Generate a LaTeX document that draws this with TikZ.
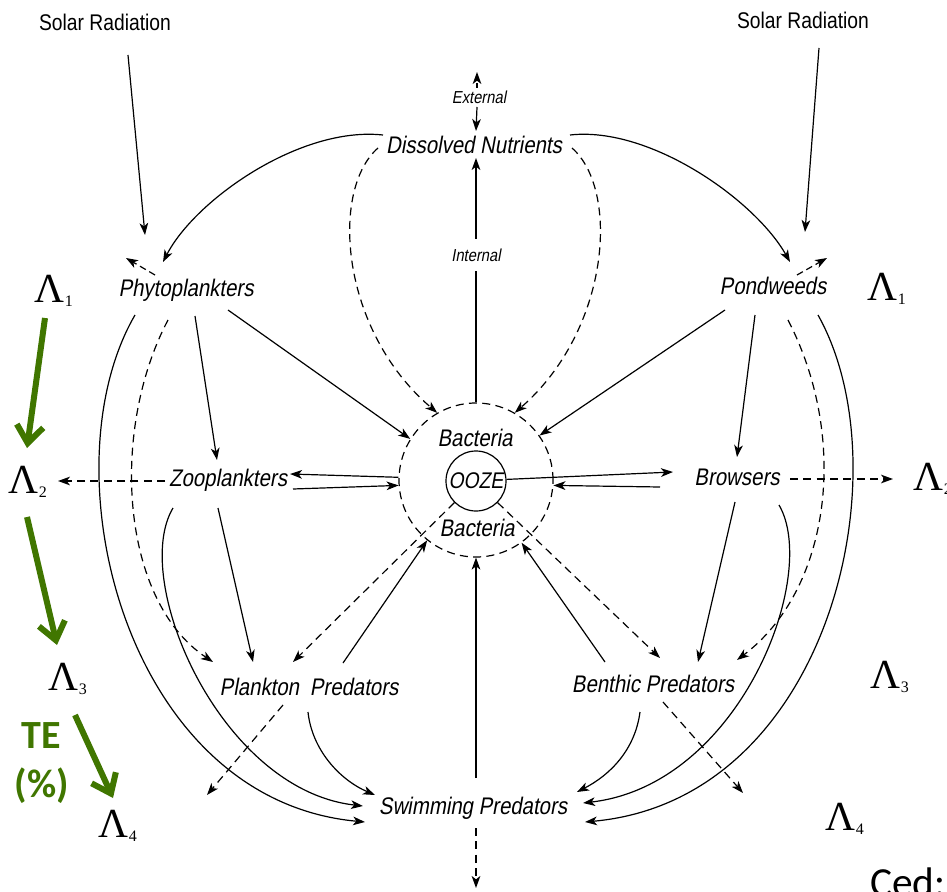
\documentclass[tikz,border=0pt]{standalone}
\usepackage{fontspec}
\usetikzlibrary{arrows.meta}
\newfontfamily\lblfont[FakeStretch=0.85,FakeSlant=0.18]{Liberation Sans}
\newfontfamily\lblupfont[FakeStretch=0.85]{Liberation Sans}
\newfontfamily\lamfont{Liberation Serif}
\newfontfamily\calfont{Carlito}
\definecolor{tegreen}{RGB}{64,118,0}
\newcommand{\lamsym}[1]{{\fontsize{31}{31}\selectfont Λ}\kern0.5pt\raisebox{-3pt}{\fontsize{12}{12}\selectfont #1}}
\begin{document}
\begin{tikzpicture}[x=0.75pt,y=-0.75pt,
  lbl/.style={font=\lblfont\fontsize{18}{20}\selectfont, inner sep=1pt},
  lblup/.style={font=\lblupfont\fontsize{17}{19}\selectfont, inner sep=1pt},
  lblsm/.style={font=\lblfont\fontsize{13}{15}\selectfont, inner sep=1pt},
  conn/.style={line width=0.9pt, -{Stealth[length=9pt,width=6.5pt,inset=2.5pt]}},
  dconn/.style={conn, dash pattern=on 6pt off 4pt},
  lam/.style={anchor=base west, inner sep=0pt, font=\lamfont},
  garrow/.style={draw=tegreen, line width=4.5pt, -{Straight Barb[length=13pt,width=20pt]}},
]
\useasboundingbox (0,0) rectangle (947,892);

% ---------- text nodes ----------
\node[lblup] (solL) at (105,22) {Solar Radiation};
\node[lblup] (solR) at (803,20) {Solar Radiation};
\node[lblsm] (ext) at (479,97) {External};
\node[lbl] (dn) at (474,145) {Dissolved Nutrients};
\node[lbl] (phyto) at (186,290) {Phytoplankters};
\node[lbl] (pond) at (773,286) {Pondweeds};
\node[circle, draw, line width=0.9pt, dash pattern=on 6pt off 4pt, minimum size=115.5pt, inner sep=0pt] (bac) at (476,480) {};
\node[circle, draw, line width=0.9pt, minimum size=45pt, inner sep=0pt, font=\lblfont\fontsize{17}{19}\selectfont] (ooze) at (476,481) {OOZE};
\node[lbl] (bacT) at (475,438) {Bacteria};
\node[lbl] (bacB) at (477,528) {Bacteria};
\node[lbl] (zoo) at (228,480) {Zooplankters};
\node[lbl] (brow) at (737,477) {Browsers};
\node[lbl] (pp) at (309,687) {Plankton\hspace{0.45em}Predators};
\node[lbl] (bp) at (653,684) {Benthic Predators};
\node[lbl] (sp) at (473,808) {Swimming Predators};

% ---------- Lambda nodes ----------
\node[lam] (L1l) at (34,302) {\lamsym{1}};
\node[lam] (L1r) at (867,300) {\lamsym{1}};
\node[lam] (L2l) at (8,493) {\lamsym{2}};
\node[lam] (L2r) at (913,490) {\lamsym{2}};
\node[lam] (L3l) at (48,690) {\lamsym{3}};
\node[lam] (L3r) at (870,688) {\lamsym{3}};
\node[lam] (L4l) at (98,837) {\lamsym{4}};
\node[lam] (L4r) at (825,830) {\lamsym{4}};

% free ends
\coordinate (extTop) at (477,72);
\coordinate (phyFree) at (126,258);
\coordinate (pondFree) at (827,258);
\coordinate (ppFree) at (207,795);
\coordinate (bpFree) at (743,793);
\coordinate (spFree) at (476,888);

% ---------- connectors ----------
% solar
\draw[conn] ([shift={(23,33)}]solL.center) -- ([shift={(-41,-55)}]phyto.center);
\draw[conn] ([shift={(16,28)}]solR.center) -- ([shift={(32,-54)}]pond.center);
% external
\draw[conn, dash pattern=on 4pt off 2.5pt] ([shift={(-2,-9)}]ext.center) -- (extTop);
\draw[conn] ([shift={(-2,10)}]ext.center) -- ([shift={(2,-14)}]dn.center);
% internal
\draw[conn] (bac.north) -- ([shift={(2,13)}]dn.center);
\node[lblsm, fill=white, inner ysep=7pt] (int) at (476,255) {Internal};
% nutrients to producers
\draw[conn] ([shift={(-91,-10)}]dn.center) .. controls (300,126) and (195,200) .. ([shift={(-23,-28)}]phyto.center);
\draw[conn] ([shift={(96,-10)}]dn.center) .. controls (650,126) and (755,200) .. ([shift={(17,-24)}]pond.center);
% nutrients dashed to bacteria
\draw[dconn] ([shift={(-96,3)}]dn.center) .. controls (330,190) and (340,330) .. (bac.120);
\draw[dconn] ([shift={(98,3)}]dn.center) .. controls (620,190) and (610,330) .. (bac.60);
% small dashed from producers
\draw[conn, dash pattern=on 5pt off 3pt] ([shift={(-31,-15)}]phyto.center) -- (phyFree);
\draw[conn, dash pattern=on 5pt off 3pt] ([shift={(24,-11)}]pond.center) -- (pondFree);
% producers to bacteria
\draw[conn] ([shift={(42,20)}]phyto.center) -- (bac.148);
\draw[conn] ([shift={(-48,24)}]pond.center) -- (bac.35);
% producers to grazers
\draw[conn] ([shift={(9,26)}]phyto.center) -- ([shift={(-11,-20)}]zoo.center);
\draw[conn] ([shift={(-18,29)}]pond.center) -- ([shift={(0,-20)}]brow.center);
% bacteria <-> grazers
\draw[conn] (bac.178) -- ([shift={(62,-6)}]zoo.center);
\draw[conn] ([shift={(65,9)}]zoo.center) -- (bac.184);
\draw[conn] (ooze.3) -- ([shift={(-64,-5)}]brow.center);
\draw[conn] ([shift={(-77,10)}]brow.center) -- (bac.-4);
% grazers dashed to Lambda2
\draw[dconn] ([shift={(-63,1)}]zoo.center) -- ([shift={(50,-12)}]L2l.base west);
\draw[dconn] ([shift={(53,2)}]brow.center) -- ([shift={(-20,-11)}]L2r.base west);
% phyto long curves
\draw[conn] ([shift={(-51,25)}]phyto.center) .. controls (45,470) and (125,800) .. ([shift={(-108,14)}]sp.center);
\draw[dconn] ([shift={(-18,30)}]phyto.center) .. controls (110,430) and (120,600) .. ([shift={(-96,-25)}]pp.center);
\draw[conn] ([shift={(-55,28)}]zoo.center) .. controls (130,580) and (220,790) .. ([shift={(-110,-2)}]sp.center);
\draw[conn] ([shift={(-10,28)}]zoo.center) -- ([shift={(-56,-25)}]pp.center);
% pond long curves
\draw[conn] ([shift={(45,29)}]pond.center) .. controls (905,470) and (830,800) .. ([shift={(112,14)}]sp.center);
\draw[dconn] ([shift={(15,34)}]pond.center) .. controls (850,440) and (830,590) .. ([shift={(84,-24)}]bp.center);
\draw[conn] ([shift={(42,28)}]brow.center) .. controls (820,575) and (740,785) .. ([shift={(110,-5)}]sp.center);
\draw[conn] ([shift={(-2,25)}]brow.center) -- ([shift={(45,-22)}]bp.center);
% ooze / bacteria with predators
\draw[dconn] (ooze.225) -- ([shift={(-16,-25)}]pp.center);
\draw[dconn] (ooze.-45) -- ([shift={(7,-26)}]bp.center);
\draw[conn] ([shift={(34,-24)}]pp.center) -- (bac.231);
\draw[conn] ([shift={(-48,-22)}]bp.center) -- (bac.-54);
\draw[conn] ([shift={(3,-30)}]sp.center) -- (bac.south);
% predators downward
\draw[dconn] ([shift={(-26,18)}]pp.center) -- (ppFree);
\draw[dconn] ([shift={(10,18)}]bp.center) -- (bpFree);
\draw[dconn] ([shift={(3,20)}]sp.center) -- (spFree);
\draw[conn] ([shift={(-1,25)}]pp.center) .. controls (312,750) and (340,780) .. ([shift={(-98,-13)}]sp.center);
\draw[conn] ([shift={(-13,28)}]bp.center) .. controls (635,750) and (610,775) .. ([shift={(104,-16)}]sp.center);

% ---------- green overlay ----------
\draw[garrow] ([shift={(11,16)}]L1l.base west) -- ([shift={(19,-45)}]L2l.base west);
\draw[garrow] ([shift={(19,24)}]L2l.base west) -- ([shift={(9,-45)}]L3l.base west);
\draw[garrow] ([shift={(27,25)}]L3l.base west) -- ([shift={(15,-39)}]L4l.base west);
\node[font=\calfont\bfseries\fontsize{30}{30}\selectfont, text=tegreen, anchor=base, inner sep=0pt] (te) at (41,748) {TE};
\node[font=\calfont\bfseries\fontsize{30}{30}\selectfont, text=tegreen, anchor=base, inner sep=0pt] (pct) at (42,797) {(\%)};
\node[font=\calfont\fontsize{31}{31}\selectfont, anchor=base west, inner sep=0pt] (ced) at (870,896) {Ced:};
\end{tikzpicture}
\end{document}
